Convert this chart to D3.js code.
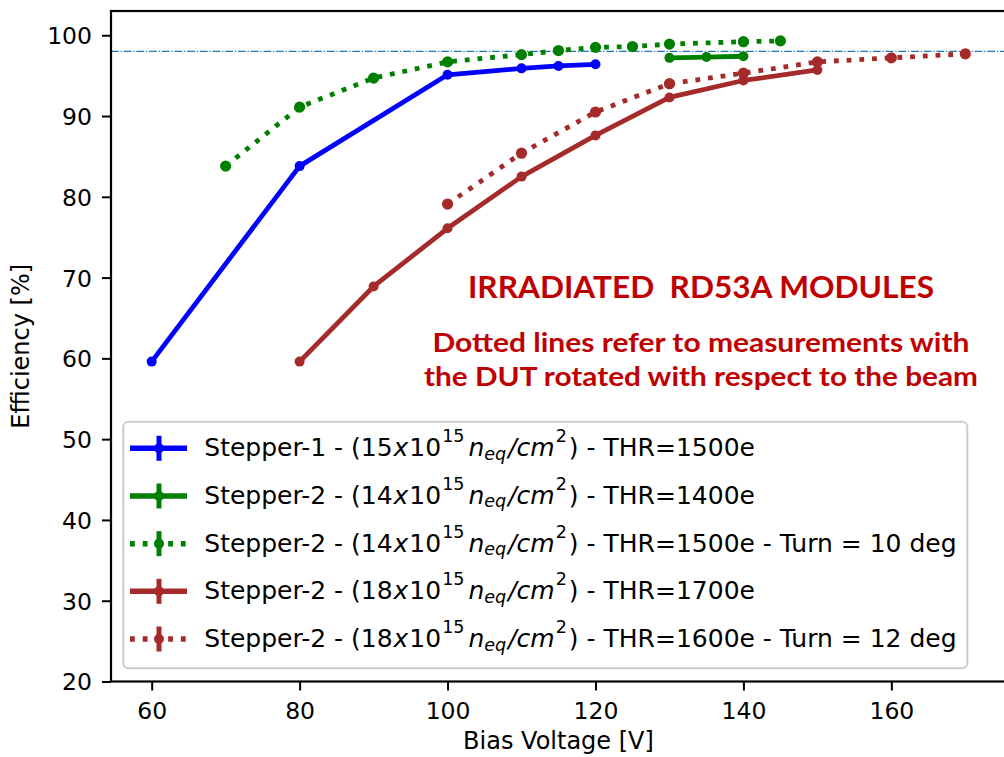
<!DOCTYPE html>
<html>
<head>
<meta charset="utf-8">
<script src="https://cdn.jsdelivr.net/npm/d3@7"></script>
<style>
  html, body { margin: 0; padding: 0; background: #fff; }
  svg { display: block; font-family: "DejaVu Sans", sans-serif; }
  text { white-space: pre; }
</style>
</head>
<body>
<svg id="chart" width="1004" height="757"></svg>
<script>
// Bias-voltage scans of irradiated RD53A modules
const voltsS1 = [60, 80, 100, 110, 115, 120];
const effS1 = [59.6, 83.8, 95.1, 95.9, 96.2, 96.4];

const voltsS2a = [130, 135, 140];
const effS2a = [97.2, 97.3, 97.4];

const voltsS2aTurn = [70, 80, 90, 100, 110, 115, 120, 125, 130, 140, 145];
const effS2aTurn = [83.8, 91.1, 94.7, 96.7, 97.6, 98.1, 98.5, 98.6, 98.9, 99.2, 99.3];

const voltsS2b = [80, 90, 100, 110, 120, 130, 140, 150];
const effS2b = [59.6, 68.9, 76.1, 82.5, 87.6, 92.3, 94.4, 95.7];

const voltsS2bTurn = [100, 110, 120, 130, 140, 150, 160, 170];
const effS2bTurn = [79.1, 85.4, 90.5, 94.0, 95.3, 96.7, 97.2, 97.7];

const xTicks = [60, 80, 100, 120, 140, 160];
const yTicks = [20, 30, 40, 50, 60, 70, 80, 90, 100];
const referenceEff = 98;

const labelPrefixes = ["Stepper-1 - (", "Stepper-2 - (", "Stepper-2 - (", "Stepper-2 - (", "Stepper-2 - ("];
const labelFluences = ["15", "14", "14", "18", "18"];
const labelSuffixes = [") - THR=1500e", ") - THR=1400e", ") - THR=1500e - Turn = 10 deg", ") - THR=1700e", ") - THR=1600e - Turn = 12 deg"];

const seriesColors = ["#0000ff", "#008000", "#008000", "#a52a2a", "#a52a2a"];
const seriesDotted = [false, false, true, false, true];

const series = [
  { x: voltsS1, y: effS1 },
  { x: voltsS2a, y: effS2a },
  { x: voltsS2aTurn, y: effS2aTurn },
  { x: voltsS2b, y: effS2b },
  { x: voltsS2bTurn, y: effS2bTurn }
].map((s, i) => ({
  ...s,
  color: seriesColors[i],
  dotted: seriesDotted[i],
  prefix: labelPrefixes[i],
  fluence: labelFluences[i],
  suffix: labelSuffixes[i]
}));

const svg = d3.select("#chart");
const plotLeft = 111, plotRight = 1006, plotTop = 11, plotBottom = 681.5;

const x = d3.scaleLinear().domain([54.5, 175.5]).range([plotLeft, plotRight]);
const y = d3.scaleLinear().domain([20, 103]).range([plotBottom, plotTop]);

const LW = 4.8;
const dotDash = `${LW},${(LW * 1.65).toFixed(2)}`;

// reference efficiency line
svg.append("line")
  .attr("x1", plotLeft).attr("x2", plotRight)
  .attr("y1", y(referenceEff)).attr("y2", y(referenceEff))
  .attr("stroke", "#1f77b4").attr("stroke-width", 1.2)
  .attr("stroke-dasharray", "7.7,1.9,1.2,1.9");

// series lines and markers
const line = d3.line().x(d => x(d[0])).y(d => y(d[1]));
series.forEach(s => {
  const pts = s.x.map((v, i) => [v, s.y[i]]);
  svg.append("path")
    .attr("d", line(pts))
    .attr("fill", "none")
    .attr("stroke", s.color)
    .attr("stroke-width", LW)
    .attr("stroke-linejoin", "round")
    .attr("stroke-dasharray", s.dotted ? dotDash : null);
  svg.append("g").selectAll("circle").data(pts).join("circle")
    .attr("cx", d => x(d[0])).attr("cy", d => y(d[1]))
    .attr("r", s.dotted ? 5.6 : 5)
    .attr("fill", s.color);
});

// axes
const xAxis = svg.append("g")
  .attr("transform", `translate(0,${plotBottom})`)
  .call(d3.axisBottom(x).tickValues(xTicks).tickSize(9).tickSizeOuter(0));
xAxis.select(".domain").remove();
xAxis.selectAll(".tick line").attr("stroke", "#000").attr("stroke-width", 2);
xAxis.selectAll(".tick text").attr("y", 37).attr("dy", 0)
  .attr("font-size", 23.5).attr("font-family", "DejaVu Sans").attr("fill", "#000");

const yAxis = svg.append("g")
  .attr("transform", `translate(${plotLeft},0)`)
  .call(d3.axisLeft(y).tickValues(yTicks).tickSize(9).tickPadding(10).tickSizeOuter(0));
yAxis.select(".domain").remove();
yAxis.selectAll(".tick line").attr("stroke", "#000").attr("stroke-width", 2);
yAxis.selectAll(".tick text").attr("dy", "0.36em")
  .attr("font-size", 23.5).attr("font-family", "DejaVu Sans").attr("fill", "#000");

// frame
svg.append("rect")
  .attr("x", plotLeft).attr("y", plotTop)
  .attr("width", plotRight - plotLeft).attr("height", plotBottom - plotTop)
  .attr("fill", "none").attr("stroke", "#000").attr("stroke-width", 2.2);

// axis titles
svg.append("text")
  .attr("x", (plotLeft + plotRight) / 2).attr("y", 749)
  .attr("text-anchor", "middle").attr("font-size", 24)
  .text("Bias Voltage [V]");
svg.append("text")
  .attr("transform", `translate(29,${(plotTop + plotBottom) / 2}) rotate(-90)`)
  .attr("text-anchor", "middle").attr("font-size", 24)
  .text("Efficiency [%]");

// annotation
const note = svg.append("g").attr("fill", "#c00000")
  .attr("font-family", "Lato, 'Open Sans', sans-serif").attr("font-weight", "bold");
note.append("text").attr("x", 468).attr("y", 298).attr("font-size", 29.5)
  .attr("textLength", 466).attr("lengthAdjust", "spacingAndGlyphs")
  .text("IRRADIATED  RD53A MODULES");
note.append("text").attr("x", 432.5).attr("y", 351.7).attr("font-size", 26.5)
  .attr("textLength", 537).attr("lengthAdjust", "spacingAndGlyphs")
  .text("Dotted lines refer to measurements with");
note.append("text").attr("x", 424).attr("y", 386).attr("font-size", 26.5)
  .attr("textLength", 554).attr("lengthAdjust", "spacingAndGlyphs")
  .text("the DUT rotated with respect to the beam");

// legend
const legend = svg.append("g");
legend.append("rect")
  .attr("x", 123.3).attr("y", 421.7).attr("width", 844).attr("height", 246.6)
  .attr("rx", 5).attr("fill", "#fff").attr("fill-opacity", 0.8)
  .attr("stroke", "#cccccc").attr("stroke-width", 2);

const rowY = d3.scaleLinear().domain([0, 4]).range([448.3, 639]);
const fs = 25, supFs = fs * 0.7, supUp = 14, subDown = 3.5;
series.forEach((s, i) => {
  const cy = rowY(i);
  const g = legend.append("g");
  g.append("line").attr("x1", 130).attr("x2", 187).attr("y1", cy).attr("y2", cy)
    .attr("stroke", s.color).attr("stroke-width", 5.5)
    .attr("stroke-dasharray", s.dotted ? dotDash : null);
  g.append("line").attr("x1", 159).attr("x2", 159).attr("y1", cy - 12.5).attr("y2", cy + 12.5)
    .attr("stroke", s.color).attr("stroke-width", 5);
  g.append("circle").attr("cx", 159).attr("cy", cy).attr("r", 5).attr("fill", s.color);

  const t = g.append("text").attr("x", 204.3).attr("y", cy + 8).attr("font-size", fs).attr("fill", "#000");
  t.append("tspan").text(s.prefix + s.fluence);
  t.append("tspan").attr("font-style", "italic").attr("dx", 1).text("x");
  t.append("tspan").attr("dx", 1).text("10");
  t.append("tspan").attr("font-size", supFs).attr("dx", 1).attr("dy", -supUp).text("15");
  t.append("tspan").attr("font-style", "italic").attr("dx", 4).attr("dy", supUp).text("n");
  t.append("tspan").attr("font-style", "italic").attr("font-size", supFs).attr("dy", subDown).text("eq");
  t.append("tspan").attr("font-style", "italic").attr("dx", 2).attr("dy", -subDown).text("/cm");
  t.append("tspan").attr("font-size", supFs).attr("dx", 1).attr("dy", -supUp).text("2");
  t.append("tspan").attr("dx", 2).attr("dy", supUp).text(s.suffix);
});
</script>
</body>
</html>
